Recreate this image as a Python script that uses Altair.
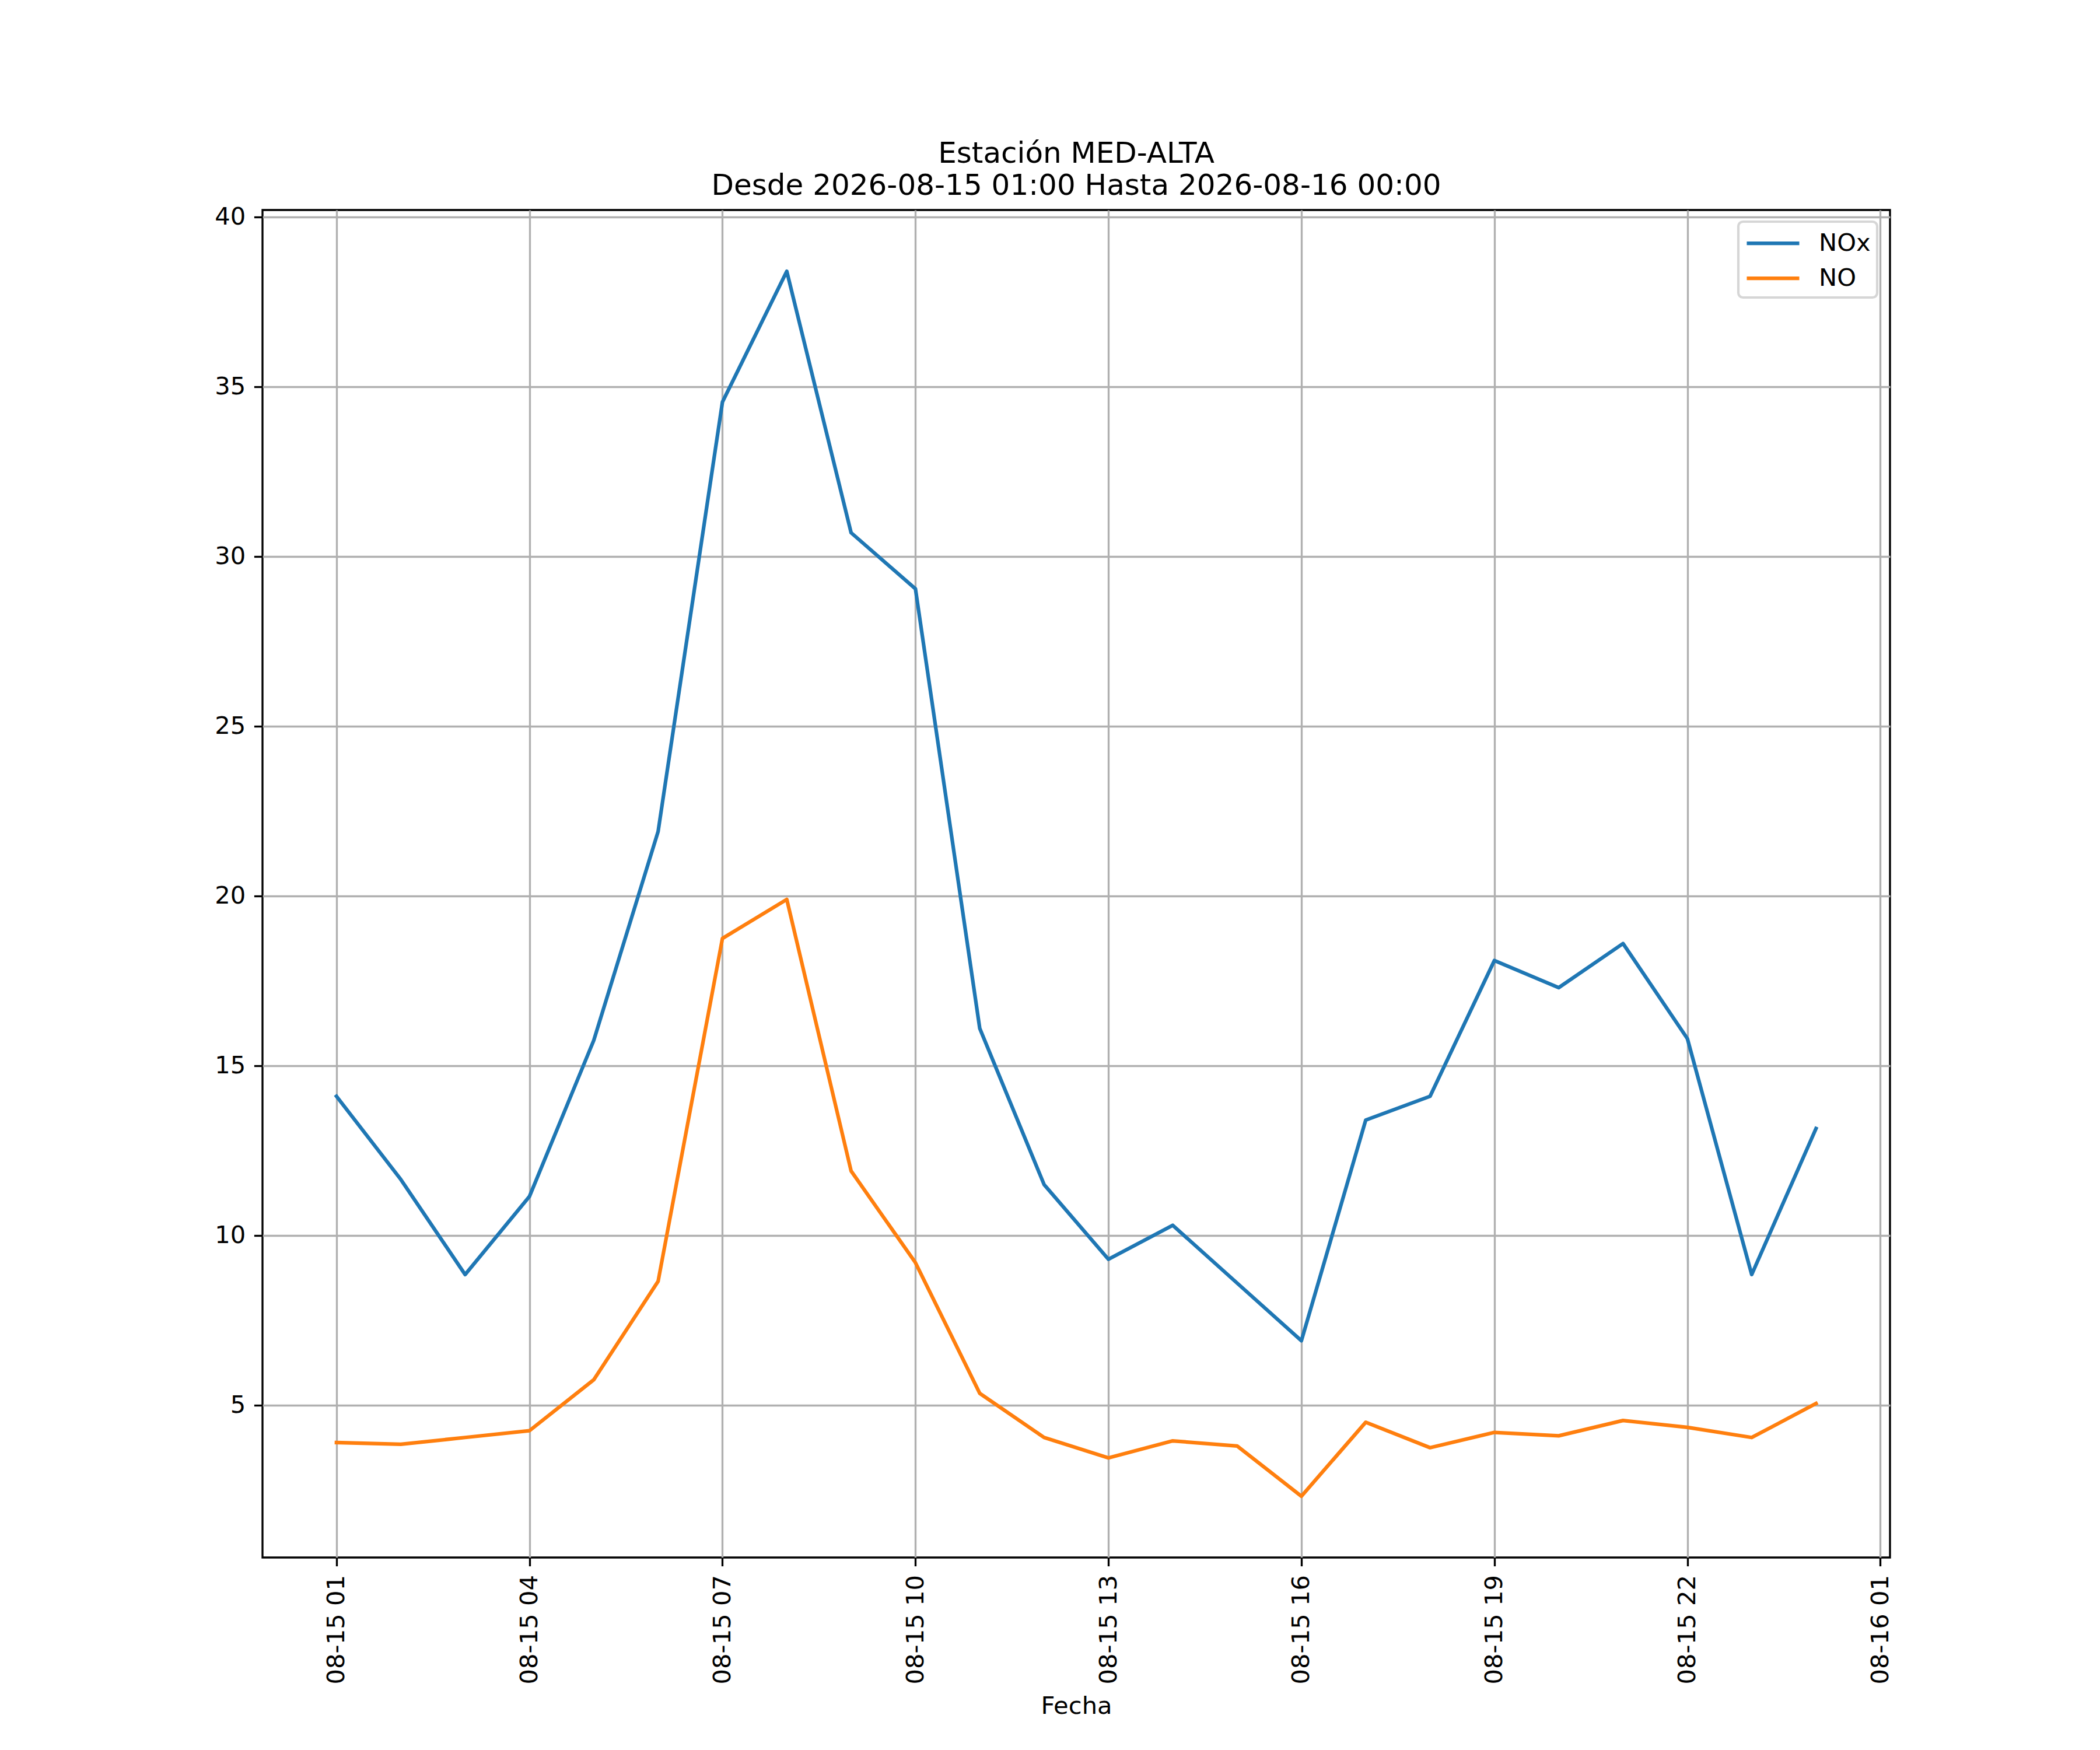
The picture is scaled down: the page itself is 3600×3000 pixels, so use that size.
import altair as alt
import pandas as pd

# ---------------------------------------------------------
# DATA (hourly values)
# ---------------------------------------------------------
horas = [
    "2026-08-15T01:00:00", "2026-08-15T02:00:00", "2026-08-15T03:00:00",
    "2026-08-15T04:00:00", "2026-08-15T05:00:00", "2026-08-15T06:00:00",
    "2026-08-15T07:00:00", "2026-08-15T08:00:00", "2026-08-15T09:00:00",
    "2026-08-15T10:00:00", "2026-08-15T11:00:00", "2026-08-15T12:00:00",
    "2026-08-15T13:00:00", "2026-08-15T14:00:00", "2026-08-15T15:00:00",
    "2026-08-15T16:00:00", "2026-08-15T17:00:00", "2026-08-15T18:00:00",
    "2026-08-15T19:00:00", "2026-08-15T20:00:00", "2026-08-15T21:00:00",
    "2026-08-15T22:00:00", "2026-08-15T23:00:00", "2026-08-16T00:00:00",
]

nox = [14.1, 11.65, 8.85, 11.15, 15.75, 21.9, 34.55, 38.4, 30.7, 29.05,
       16.1, 11.5, 9.3, 10.3, 8.6, 6.9, 13.4, 14.1, 18.1, 17.3,
       18.6, 15.8, 8.85, 13.15]

no = [3.9, 3.85, 4.05, 4.25, 5.75, 8.65, 18.75, 19.9, 11.9, 9.2,
      5.35, 4.05, 3.45, 3.95, 3.8, 2.32, 4.5, 3.75, 4.2, 4.1,
      4.55, 4.35, 4.05, 5.05]

series = ["NOx", "NO"]
colores = ["#1f77b4", "#ff7f0e"]

y_ticks = [5, 10, 15, 20, 25, 30, 35, 40]
x_ticks = [alt.DateTime(year=2026, month=8, date=15, hours=h) for h in range(1, 23, 3)]
x_ticks.append(alt.DateTime(year=2026, month=8, date=16, hours=1))

titulo = ["Estación MED-ALTA", "Desde 2026-08-15 01:00 Hasta 2026-08-16 00:00"]

df = pd.concat([
    pd.DataFrame({"Fecha": horas, "valor": nox, "serie": "NOx"}),
    pd.DataFrame({"Fecha": horas, "valor": no, "serie": "NO"}),
])

# ---------------------------------------------------------
# STYLE (matplotlib look at 300 dpi)
# ---------------------------------------------------------
FONT = "DejaVu Sans"
FS = 41.67          # 10 pt
LW = 6.25           # 1.5 pt
THIN = 3.33         # 0.8 pt
TICK = 14.6         # 3.5 pt

x_domain = [
    alt.DateTime(year=2026, month=8, date=14, hours=23, minutes=51),
    alt.DateTime(year=2026, month=8, date=16, hours=1, minutes=9),
]

chart = (
    alt.Chart(df)
    .mark_line(strokeWidth=LW, strokeJoin="round", strokeCap="square")
    .encode(
        x=alt.X(
            "Fecha:T",
            scale=alt.Scale(domain=x_domain, nice=False),
            axis=alt.Axis(
                values=x_ticks,
                format="%m-%d %H",
                labelAngle=270,
                labelPadding=15,
                labelLimit=1000,
                title="Fecha",
                titleBaseline="alphabetic",
                titleY=267,
            ),
        ),
        y=alt.Y(
            "valor:Q",
            scale=alt.Scale(domain=[0.515, 40.206], nice=False, zero=False),
            axis=alt.Axis(values=y_ticks, title=None, labelPadding=TICK),
        ),
        color=alt.Color(
            "serie:N",
            scale=alt.Scale(domain=series, range=colores),
            sort=series,
            legend=alt.Legend(
                title=None,
                orient="none",
                legendX=2530,
                legendY=20,
                symbolType="M-1,0H3",
                symbolSize=2025,
                symbolStrokeWidth=LW,
                labelFontSize=FS,
                labelFont=FONT,
                labelColor="black",
                labelOffset=75,
                rowPadding=12,
                padding=11,
                strokeColor="#d6d6d6",
                fillColor="rgba(255,255,255,0.8)",
                cornerRadius=8,
            ),
        ),
    )
    .properties(
        width=2790,
        height=2310,
        autosize=alt.AutoSizeParams(type="none"),
        padding={"left": 442, "top": 352, "right": 352, "bottom": 322},
        title=alt.TitleParams(
            text=titulo,
            font=FONT,
            fontSize=50,
            fontWeight="normal",
            color="black",
            lineHeight=55,
            anchor="middle",
            baseline="bottom",
            offset=15,
            dy=57,
        ),
    )
    .configure(font=FONT)
    .configure_view(stroke="black", strokeWidth=THIN)
    .configure_legend(strokeWidth=4.17)
    .configure_axis(
        domain=False,
        grid=True,
        gridColor="#b0b0b0",
        gridWidth=THIN,
        gridOpacity=1,
        ticks=True,
        tickColor="black",
        tickWidth=THIN,
        tickSize=TICK,
        labelFont=FONT,
        labelFontSize=FS,
        labelColor="black",
        labelOverlap=False,
        labelFlush=False,
        labelBound=False,
        titleFont=FONT,
        titleFontSize=FS,
        titleFontWeight="normal",
        titleColor="black",
    )
)

chart.save("out.html", embed_options={"renderer": "svg", "actions": False})
